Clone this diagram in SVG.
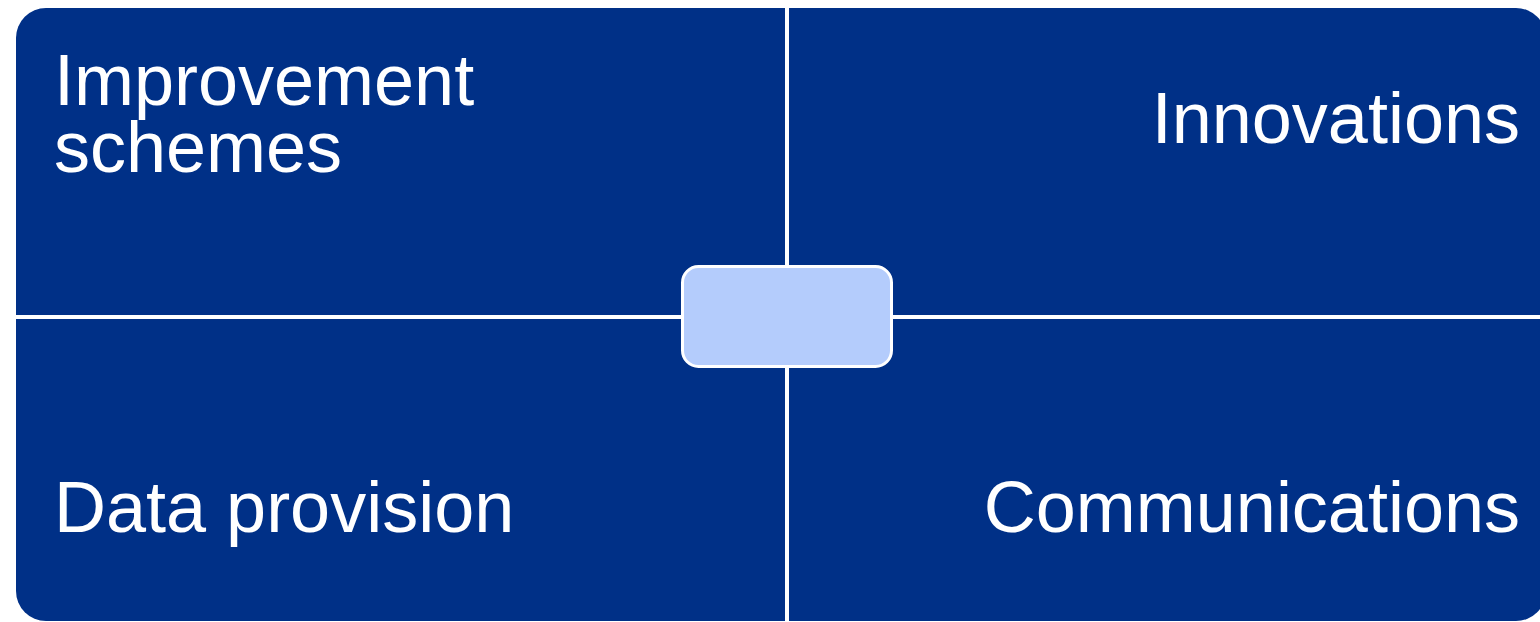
<svg xmlns="http://www.w3.org/2000/svg" width="1540" height="622" viewBox="0 0 1540 622">
<style>
.q{fill:#003087}
.t{fill:#ffffff;font-family:"Liberation Sans",Arial,sans-serif;font-size:72px}
</style>
<rect width="1540" height="622" fill="#ffffff"/>
<g id="quad-tl">
<path class="q" d="M16 38 A30 30 0 0 1 46 8 H785 V315 H16 Z"/>
<text class="t" x="54" y="105">Improvement</text>
<text class="t" x="54" y="172">schemes</text>
</g>
<g id="quad-tr">
<path class="q" d="M789 8 H1516 A30 30 0 0 1 1546 38 V315 H789 Z"/>
<text class="t" x="1520" y="143" text-anchor="end">Innovations</text>
</g>
<g id="quad-bl">
<path class="q" d="M16 319 H785 V621 H46 A30 30 0 0 1 16 591 Z"/>
<text class="t" x="54" y="532">Data provision</text>
</g>
<g id="quad-br">
<path class="q" d="M789 319 H1546 V591 A30 30 0 0 1 1516 621 H789 Z"/>
<text class="t" x="1520" y="532" text-anchor="end">Communications</text>
</g>
<g id="center">
<rect x="682.5" y="266.5" width="209" height="100" rx="16" fill="#b4ccfc" stroke="#ffffff" stroke-width="3"/>
</g>
<g id="connectors"></g>
</svg>
